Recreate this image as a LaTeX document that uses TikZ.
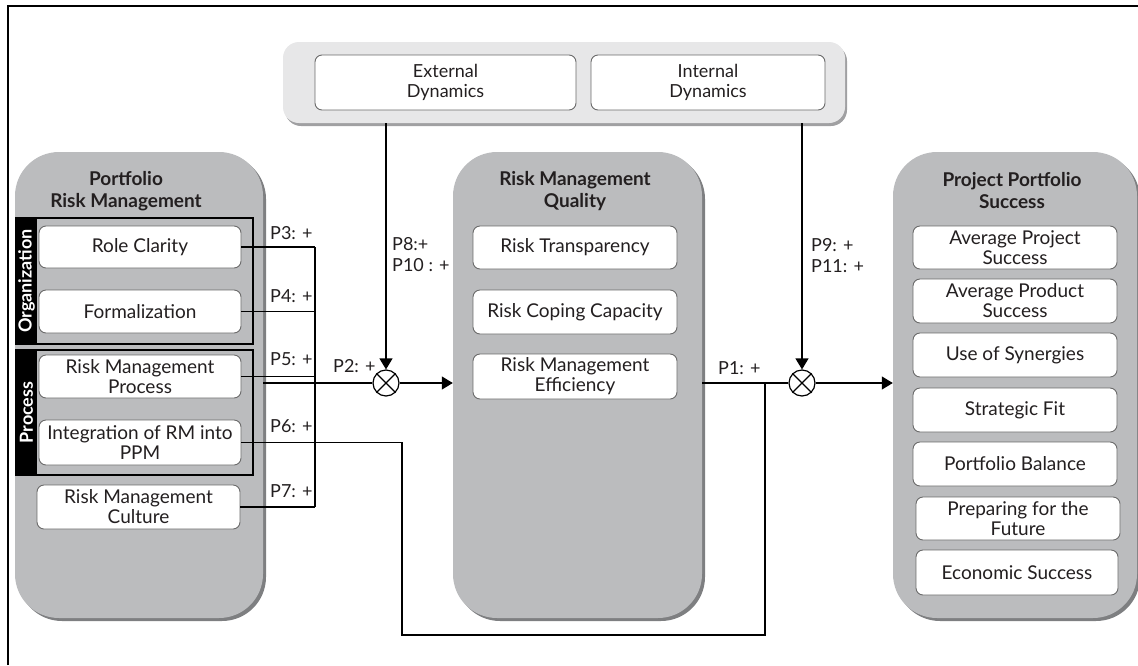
\documentclass[tikz,border=0pt]{standalone}
\usepackage{fontspec}
\setmainfont{Lato}
\usetikzlibrary{arrows.meta,shadows}
\definecolor{panelgray}{HTML}{BBBCBE}
\definecolor{shadowgray}{HTML}{7E7F81}
\definecolor{toppanel}{HTML}{E7E7E8}
\definecolor{topshadow}{HTML}{A0A0A2}
\definecolor{boxborder}{HTML}{6A6A6A}
\definecolor{inkcol}{HTML}{231F20}
\begin{document}
\begin{tikzpicture}[x=1pt,y=-1pt,
  panel/.style={fill=panelgray, draw=none, rounded corners=44pt, inner sep=0pt,
    drop shadow={shadow xshift=3pt, shadow yshift=-3pt, fill=shadowgray, opacity=1}},
  toppan/.style={fill=toppanel, draw=none, rounded corners=16pt, inner sep=0pt,
    drop shadow={shadow xshift=2pt, shadow yshift=-3pt, fill=topshadow, opacity=1}},
  item/.style={draw=boxborder, fill=white, rounded corners=7pt, line width=0.9pt,
    align=center, inner sep=0pt, text=inkcol, font=\fontsize{19}{20}\selectfont},
  ttl/.style={font=\bfseries\fontsize{19}{22}\selectfont, align=center, text=inkcol, inner sep=0pt},
  lbl/.style={anchor=west, inner sep=0pt, text=inkcol, font=\fontsize{18}{20}\selectfont},
  conn/.style={line width=1.2pt, draw=black},
  arr/.style={conn, -{Triangle[width=13pt,length=11pt]}},
  mult/.style={circle, draw, line width=1.2pt, minimum size=26pt, inner sep=0pt, fill=white},
  barlbl/.style={text=white, rotate=90, inner sep=0pt, font=\bfseries\fontsize{18}{20}\selectfont}
]
\useasboundingbox (0,0) rectangle (1138,665);
% frame
\draw[line width=2pt] (8,665) -- (8,6) -- (1138,6);

% panels
\node[panel, minimum width=248pt, minimum height=466pt] (lp) at (139,385) {};
\node[panel, minimum width=249pt, minimum height=466pt] (mp) at (577.5,385) {};
\node[panel, minimum width=244pt, minimum height=466pt] (rp) at (1015,385) {};
\node[toppan, minimum width=562pt, minimum height=81pt] (tp) at (564,82.5) {};

% titles
\node[ttl] (lpt) at (126,191) {Portfolio\\Risk Management};
\node[ttl] (mpt) at (575,191) {Risk Management\\Quality};
\node[ttl] (rpt) at (1012,191) {Project Portfolio\\Success};

% top boxes
\node[item, minimum width=261pt, minimum height=55pt, font=\fontsize{18}{20}\selectfont] (ext) at (445.5,82.5) {External\\Dynamics};
\node[item, minimum width=234pt, minimum height=55pt, font=\fontsize{18}{20}\selectfont] (int) at (708,82.5) {Internal\\Dynamics};

% brackets
\draw[conn] (16,218) rectangle (253,344);
\fill[black] (16,218) rectangle (37,344);
\node[barlbl] (orgl) at (26.5,281) {Organization};
\draw[conn] (16,350) rectangle (253,475);
\fill[black] (16,350) rectangle (37,475);
\node[barlbl] (prol) at (26.5,412.5) {Process};

% left boxes
\node[item, minimum width=202pt, minimum height=42pt] (rc) at (140,247) {Role Clarity};
\node[item, minimum width=202pt, minimum height=43pt] (fo) at (140,311.5) {Formalization};
\node[item, minimum width=202pt, minimum height=43pt] (rmp) at (140,376.5) {Risk Management\\Process};
\node[item, minimum width=202pt, minimum height=45pt] (irm) at (140,442.5) {Integration of RM into\\PPM};
\node[item, minimum width=203pt, minimum height=44pt] (rmc) at (138.5,507) {Risk Management\\Culture};

% middle boxes
\node[item, minimum width=204pt, minimum height=43pt] (rt) at (575,247.5) {Risk Transparency};
\node[item, minimum width=204pt, minimum height=44pt] (rcc) at (575,312) {Risk Coping Capacity};
\node[item, minimum width=204pt, minimum height=45pt] (rme) at (575,376.5) {Risk Management\\Efficiency};

% right boxes
\node[item, minimum width=204pt, minimum height=43pt] (aps) at (1015,247.5) {Average Project\\Success};
\node[item, minimum width=204pt, minimum height=44pt] (aprs) at (1015,301) {Average Product\\Success};
\node[item, minimum width=204pt, minimum height=44pt] (uos) at (1015,355) {Use of Synergies};
\node[item, minimum width=204pt, minimum height=44pt] (sf) at (1015,410) {Strategic Fit};
\node[item, minimum width=204pt, minimum height=44pt] (pb) at (1015,464) {Portfolio Balance};
\node[item, minimum width=204pt, minimum height=43pt] (pff) at (1018,518.5) {Preparing for the\\Future};
\node[item, minimum width=202pt, minimum height=45pt] (es) at (1017,572.5) {Economic Success};

% multiplication nodes
\node[mult] (c1) at (386,383) {};
\node[mult] (c2) at (802,383) {};
\draw[line width=1.1pt] (c1.north east) -- (c1.south west) (c1.north west) -- (c1.south east);
\draw[line width=1.1pt] (c2.north east) -- (c2.south west) (c2.north west) -- (c2.south east);

% left connectors
\coordinate (bar) at (315,0);
\draw[conn] (rc.east) -- (rc.east -| bar);
\draw[conn] (fo.east) -- (fo.east -| bar);
\draw[conn] (rmp.east) -- (rmp.east -| bar);
\draw[conn] (rmc.east) -- (rmc.east -| bar);
\draw[conn] (rc.east -| bar) -- (rmc.east -| bar);
\coordinate (j1) at (402,635);
\coordinate (j2) at (765,635);
\draw[conn] (irm.east) -| (j1) -- (j2) -- (j2 |- c2);

% main flow
\draw[conn] (c1 -| lp.east) -- (c1.west);
\draw[arr] (c1.east) -- (c1 -| mp.west);
\draw[conn] (c2 -| mp.east) -- (c2.west);
\draw[arr] (c2.east) -- (c2 -| rp.west);
\draw[arr] (c1 |- tp.south) -- (c1.north);
\draw[arr] (c2 |- tp.south) -- (c2.north);

% labels
\node[lbl] (p3) at (270,233) {P3: +};
\node[lbl] (p4) at (270,296) {P4: +};
\node[lbl] (p5) at (270,359) {P5: +};
\node[lbl] (p6) at (270,426) {P6: +};
\node[lbl] (p7) at (270,491) {P7: +};
\node[lbl] (p2) at (333,366) {P2: +};
\node[lbl] (p8) at (392,244) {P8:+};
\node[lbl] (p10) at (392,265) {P10 : +};
\node[lbl] (p9) at (811,245) {P9: +};
\node[lbl] (p11) at (811,266) {P11: +};
\node[lbl] (p1) at (718,368) {P1: +};
\end{tikzpicture}
\end{document}
